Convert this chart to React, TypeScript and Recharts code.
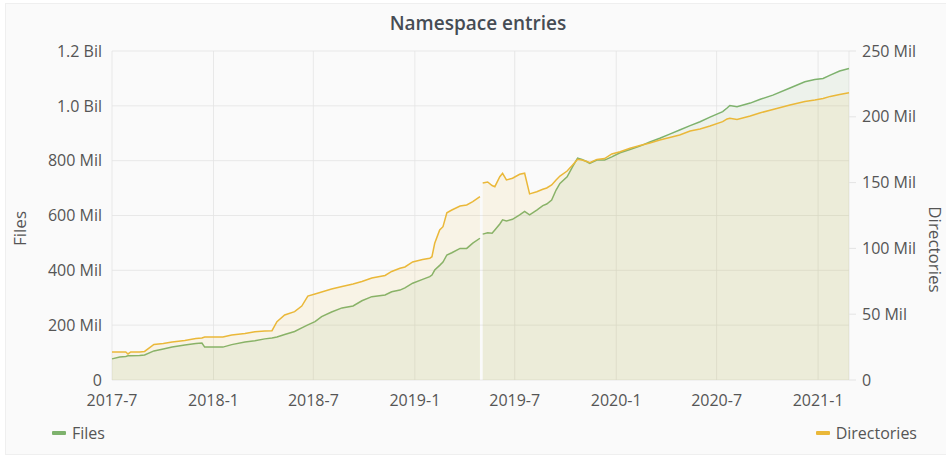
import { ComposedChart, Area, XAxis, YAxis, CartesianGrid, Legend } from "recharts";

// sample dates (UTC)
const dates = [
  "2017-07-01", "2017-07-15", "2017-07-26", "2017-07-30", "2017-08-04", "2017-08-20", "2017-08-29",
  "2017-09-15", "2017-10-02", "2017-10-18", "2017-11-10", "2017-11-30", "2017-12-11", "2017-12-16",
  "2017-12-29", "2018-01-18", "2018-02-03", "2018-02-27", "2018-03-17", "2018-04-04", "2018-04-17",
  "2018-04-26", "2018-05-10", "2018-05-28", "2018-06-10", "2018-06-21", "2018-07-04", "2018-07-16",
  "2018-08-03", "2018-08-22", "2018-09-11", "2018-09-27", "2018-10-15", "2018-11-08", "2018-11-20",
  "2018-12-05", "2018-12-14", "2018-12-28", "2019-01-15", "2019-01-28", "2019-02-01", "2019-02-06",
  "2019-02-15", "2019-02-21", "2019-02-28", "2019-03-09", "2019-03-24", "2019-04-05", "2019-04-16",
  "2019-04-29", "2019-05-01", "2019-05-04", "2019-05-13", "2019-05-21", "2019-05-26", "2019-06-04",
  "2019-06-09", "2019-06-16", "2019-06-27", "2019-07-10", "2019-07-19", "2019-07-28", "2019-08-10",
  "2019-08-21", "2019-08-28", "2019-09-06", "2019-09-14", "2019-09-21", "2019-10-04", "2019-10-14",
  "2019-10-23", "2019-10-31", "2019-11-09", "2019-11-14", "2019-11-27", "2019-12-11", "2019-12-24",
  "2020-01-08", "2020-01-26", "2020-02-13", "2020-03-02", "2020-03-20", "2020-04-07", "2020-04-25",
  "2020-05-14", "2020-06-01", "2020-06-19", "2020-07-12", "2020-07-20", "2020-07-25", "2020-08-07",
  "2020-08-31", "2020-09-17", "2020-10-11", "2020-11-11", "2020-12-08", "2020-12-26", "2021-01-10",
  "2021-01-23", "2021-02-09", "2021-02-26",
];

// files, millions
const files = [
  77, 84, 86, 88, 88, 89, 91,
  106, 113, 120, 128, 133, 135, 120,
  120, 120, 129, 139, 143, 150, 153,
  157, 166, 177, 190, 201, 213, 231,
  248, 263, 270, 289, 304, 310, 322,
  328, 336, 353, 367, 377, 383, 401,
  418, 430, 456, 464, 480, 480, 499,
  517, null, 532, 537, 535, 547, 569,
  584, 580, 586, 602, 615, 602, 620,
  636, 642, 656, 693, 717, 741, 778,
  809, 804, 796, 790, 802, 802, 814,
  829, 841, 853, 868, 882, 897, 912,
  928, 942, 959, 979, 992, 1001, 997,
  1010, 1023, 1039, 1065, 1088, 1096, 1100,
  1112, 1127, 1136,
];

// directories, millions
const directories = [
  21.3, 21.3, 21.3, 19.8, 21.3, 21.3, 21.7,
  27.0, 27.7, 28.9, 30.0, 31.5, 31.9, 32.7,
  32.7, 32.7, 34.2, 35.3, 36.7, 37.2, 37.5,
  44.3, 49.4, 51.9, 56.2, 63.8, 65.4, 66.9,
  69.2, 71.1, 73.0, 74.9, 77.5, 79.4, 82.5,
  84.9, 85.9, 89.7, 91.6, 92.5, 93.7, 103.9,
  114.0, 116.5, 127.1, 129.2, 132.2, 133.0, 135.5,
  139.3, null, 149.7, 150.5, 147.8, 146.9, 154.5,
  157.1, 152.0, 153.3, 156.3, 157.1, 141.4, 143.1,
  144.9, 145.9, 148.2, 152.0, 155.0, 158.8, 163.4,
  167.7, 167.2, 166.1, 165.1, 167.6, 168.3, 171.8,
  173.5, 176.1, 178.2, 180.1, 182.4, 184.3, 186.2,
  189.2, 190.8, 193.0, 196.3, 198.4, 198.9, 198.0,
  200.6, 202.9, 205.6, 209.0, 211.7, 212.8, 213.9,
  215.5, 217.0, 218.3,
];

const xTicks = ["2017-07-01", "2018-01-01", "2018-07-01", "2019-01-01", "2019-07-01", "2020-01-01", "2020-07-01", "2021-01-01"];
const filesTicks = [0, 200, 400, 600, 800, 1000, 1200];
const dirTicks = [0, 50, 100, 150, 200, 250];

const toTs = (s: string) => Date.parse(s + "T00:00:00Z");

const data = dates.map((d, i) => ({ t: toTs(d), files: files[i], directories: directories[i] }));

const GREEN = "#7EB26D";
const YELLOW = "#EAB839";
const FONT = "'Open Sans', 'Noto Sans', sans-serif";
const TICK = { fill: "#555", fontSize: 16, fontFamily: FONT };

const fmtDate = (v: number) => {
  const d = new Date(v);
  return `${d.getUTCFullYear()}-${d.getUTCMonth() + 1}`;
};
const fmtMil = (v: number) => {
  if (v === 0) return "0";
  if (v >= 1000) return `${(v / 1000).toFixed(1)} Bil`;
  return `${v} Mil`;
};

const LegendRow = () => (
  <div style={{ display: "flex", justifyContent: "space-between", alignItems: "center", boxSizing: "border-box", height: 35, paddingTop: 11, paddingLeft: 52, paddingRight: 29, fontFamily: FONT, fontSize: 16, color: "#555" }}>
    <span style={{ display: "flex", alignItems: "center" }}>
      <span style={{ width: 14, height: 4, background: GREEN, borderRadius: 1, marginRight: 6 }} />
      Files
    </span>
    <span style={{ display: "flex", alignItems: "center" }}>
      <span style={{ width: 14, height: 4, background: YELLOW, borderRadius: 1, marginRight: 6 }} />
      Directories
    </span>
  </div>
);

export default function App() {
  return (
    <div style={{ position: "relative", width: 946, height: 455, background: "#fff", overflow: "hidden" }}>
      <style>{`body{margin:0}`}</style>
      <div style={{ position: "absolute", left: 5, top: 3, width: 945, height: 450, background: "#fafafa", border: "1px solid #efefef" }} />
      <div style={{ position: "absolute", left: 0, top: 10, width: 956, textAlign: "center", fontFamily: FONT, fontSize: 19, fontWeight: 600, color: "#464c54" }}>
        Namespace entries
      </div>
      <div style={{ position: "absolute", left: 0, top: 0 }}>
        <ComposedChart width={946} height={455} data={data} margin={{ top: 51, right: 0, bottom: 10, left: 0 }}>
          <CartesianGrid stroke="#e4e4e4" strokeOpacity={0.8} yAxisId="files" />
          <XAxis
            dataKey="t"
            type="number"
            scale="time"
            domain={[toTs("2017-07-01"), toTs("2021-02-26")]}
            ticks={xTicks.map(toTs)}
            tickFormatter={fmtDate}
            tick={TICK}
            tickLine={false}
            axisLine={false}
            height={30}
            tickMargin={9}
          />
          <YAxis
            yAxisId="files"
            orientation="left"
            width={112}
            domain={[0, 1200]}
            ticks={filesTicks}
            tickFormatter={fmtMil}
            tick={TICK}
            tickLine={false}
            axisLine={false}
            tickMargin={4}
            label={(p: any) => {
              const vb = p.viewBox;
              const cx = 19;
              const cy = vb.y + vb.height / 2 + 13;
              return (
                <text x={cx} y={cy} transform={`rotate(-90 ${cx} ${cy})`} textAnchor="middle" dominantBaseline="central" style={{ ...TICK, fontSize: 17 }} fill="#555">
                  Files
                </text>
              );
            }}
          />
          <YAxis
            yAxisId="dirs"
            orientation="right"
            width={97}
            domain={[0, 250]}
            ticks={dirTicks}
            tickFormatter={fmtMil}
            tick={{ ...TICK, textAnchor: "start" }}
            tickLine={{ stroke: "#e4e4e4" }}
            tickSize={7}
            axisLine={false}
            tickMargin={6}
            label={(p: any) => {
              const vb = p.viewBox;
              const cx = vb.x + 86;
              const cy = vb.y + vb.height / 2 + 34;
              return (
                <text x={cx} y={cy} transform={`rotate(90 ${cx} ${cy})`} textAnchor="middle" dominantBaseline="central" style={{ ...TICK, fontSize: 17 }} fill="#555">
                  Directories
                </text>
              );
            }}
          />
          <Legend verticalAlign="bottom" content={() => <LegendRow />} />
          <Area
            yAxisId="files"
            type="linear"
            dataKey="files"
            name="Files"
            stroke={GREEN}
            strokeWidth={1.5}
            fill={GREEN}
            fillOpacity={0.1}
            connectNulls={false}
            dot={false}
            activeDot={false}
            isAnimationActive={false}
          />
          <Area
            yAxisId="dirs"
            type="linear"
            dataKey="directories"
            name="Directories"
            stroke={YELLOW}
            strokeWidth={1.5}
            fill={YELLOW}
            fillOpacity={0.1}
            connectNulls={false}
            dot={false}
            activeDot={false}
            isAnimationActive={false}
          />
        </ComposedChart>
      </div>
    </div>
  );
}
